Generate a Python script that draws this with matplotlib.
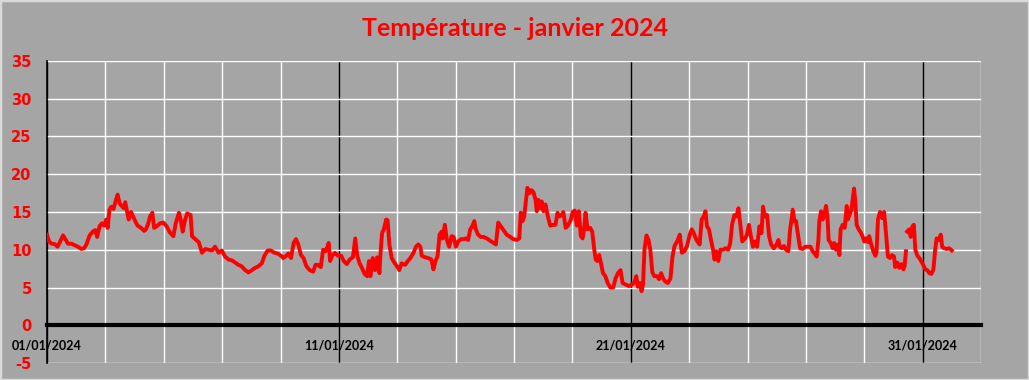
import numpy as np
import matplotlib
matplotlib.use('Agg')
import matplotlib.pyplot as plt
from matplotlib.patches import Rectangle
from matplotlib.ticker import MultipleLocator

plt.rcParams['axes.unicode_minus'] = False

# temperature readings (day since 01/01 00h, deg C)
days_a = [0.00, 0.07, 0.16, 0.27, 0.36, 0.44, 0.55, 0.63, 0.72, 0.84, 0.95, 1.06, 1.18, 1.27, 1.35,
          1.46, 1.57, 1.65, 1.72, 1.80, 1.88, 1.95, 2.03, 2.08, 2.14, 2.20, 2.28, 2.34, 2.42, 2.49,
          2.56, 2.63, 2.68, 2.74, 2.80, 2.88, 2.93, 3.01, 3.10, 3.22, 3.33, 3.39, 3.47, 3.53, 3.61,
          3.67, 3.76, 3.87, 3.99, 4.10, 4.21, 4.33, 4.41, 4.52, 4.58, 4.65, 4.72, 4.80, 4.92, 4.97,
          5.08, 5.20, 5.31, 5.42, 5.54, 5.65, 5.76, 5.88, 5.99, 6.10, 6.22]
temp_a = [12.0, 11.1, 10.8, 10.75, 10.4, 11.0, 11.9, 11.4, 10.8, 10.8, 10.6, 10.4, 10.1, 10.2, 10.7,
          11.9, 12.4, 12.6, 11.7, 13.1, 13.5, 13.2, 14.0, 12.9, 15.3, 15.7, 15.4, 16.3, 17.3, 16.1,
          15.8, 15.5, 16.3, 15.1, 14.0, 15.0, 14.6, 13.9, 13.2, 12.9, 12.5, 12.7, 13.5, 14.4, 14.9,
          12.9, 13.1, 13.5, 13.6, 13.1, 12.3, 11.8, 13.5, 14.9, 14.0, 12.4, 13.8, 14.8, 14.6, 11.8,
          11.4, 11.0, 9.6, 10.1, 10.0, 9.9, 10.4, 9.6, 9.9, 9.1, 8.7]

days_b = [6.33, 6.45, 6.56, 6.67, 6.79, 6.90, 7.02, 7.13, 7.24, 7.36, 7.45, 7.56, 7.67, 7.79, 7.90,
          8.02, 8.10, 8.17, 8.27, 8.36, 8.45, 8.53, 8.61, 8.70, 8.79, 8.89, 9.00, 9.12, 9.20, 9.29,
          9.38, 9.46, 9.54, 9.61, 9.65, 9.70, 9.77, 9.86, 9.97, 10.08, 10.17, 10.27, 10.37, 10.48, 10.56,
          10.63, 10.71, 10.79, 10.88, 10.97, 11.03, 11.08, 11.16, 11.24, 11.31, 11.39, 11.42, 11.48, 11.54, 11.62,
          11.67, 11.73, 11.81, 11.90, 11.99, 12.07, 12.15, 12.27, 12.36, 12.45]
temp_b = [8.6, 8.3, 8.0, 7.8, 7.3, 7.0, 7.3, 7.6, 7.8, 8.2, 9.2, 9.9, 9.9, 9.6, 9.5,
          9.2, 8.9, 9.1, 9.5, 8.9, 10.9, 11.4, 10.7, 9.3, 8.9, 7.8, 7.3, 7.1, 8.0, 8.0,
          7.7, 10.0, 9.8, 10.4, 10.9, 8.5, 9.2, 9.6, 9.2, 9.2, 8.5, 8.1, 8.7, 9.0, 11.5,
          9.2, 8.2, 7.6, 6.8, 6.5, 8.5, 6.5, 8.9, 7.3, 9.0, 6.9, 9.2, 12.2, 12.7, 14.0,
          13.9, 10.7, 8.9, 8.3, 7.8, 7.3, 8.2, 8.0, 8.5, 8.9]

days_c = [12.56, 12.64, 12.72, 12.79, 12.84, 12.95, 13.06, 13.17, 13.24, 13.31, 13.38, 13.45, 13.52, 13.56, 13.63,
          13.70, 13.78, 13.86, 13.93, 14.01, 14.09, 14.18, 14.27, 14.35, 14.43, 14.50, 14.57, 14.64, 14.69, 14.77,
          14.86, 14.95, 15.07, 15.18, 15.30, 15.38, 15.46, 15.53, 15.64, 15.75, 15.87, 15.98, 16.10, 16.18, 16.23,
          16.29, 16.35, 16.40, 16.46, 16.53, 16.60, 16.67, 16.74, 16.78, 16.84, 16.90, 16.95, 17.01, 17.08, 17.15,
          17.24, 17.33, 17.42, 17.49, 17.56, 17.63, 17.69, 17.77, 17.85, 17.95, 18.01, 18.08, 18.15, 18.22, 18.29,
          18.35, 18.40, 18.45, 18.52, 18.61, 18.68, 18.75, 18.80]
temp_c = [9.6, 10.4, 10.7, 10.4, 9.2, 9.0, 8.9, 8.7, 7.4, 8.5, 9.1, 12.0, 12.4, 11.5, 13.3,
          11.3, 10.4, 11.8, 11.7, 10.4, 11.1, 11.4, 11.4, 11.5, 11.3, 12.7, 13.1, 13.8, 12.7, 12.0,
          11.7, 11.7, 11.5, 11.2, 10.9, 10.7, 13.6, 13.2, 12.6, 12.0, 11.7, 11.4, 11.3, 11.5, 14.9,
          13.8, 14.4, 16.2, 18.2, 17.5, 17.9, 17.6, 16.6, 15.1, 16.6, 15.5, 16.4, 15.1, 16.0, 14.6,
          13.2, 13.3, 13.3, 14.9, 14.4, 14.6, 15.0, 12.9, 13.2, 14.0, 15.0, 15.2, 13.2, 15.1, 11.8,
          11.5, 12.7, 14.9, 12.7, 12.9, 12.4, 10.0, 8.7]

days_d = [18.85, 18.92, 18.98, 19.05, 19.13, 19.21, 19.30, 19.40, 19.48, 19.56, 19.65, 19.72, 19.82, 19.93, 20.05,
          20.13, 20.19, 20.24, 20.31, 20.37, 20.42, 20.47, 20.54, 20.61, 20.67, 20.74, 20.81, 20.90, 20.97, 21.04,
          21.11, 21.18, 21.27, 21.36, 21.43, 21.50, 21.59, 21.68, 21.75, 21.84, 21.93, 22.02, 22.09, 22.16, 22.25,
          22.36, 22.43, 22.50, 22.56, 22.61, 22.68, 22.75, 22.82, 22.87, 22.93, 23.00, 23.07, 23.16, 23.25, 23.34,
          23.41, 23.47, 23.55, 23.62, 23.69, 23.76, 23.82, 23.92, 23.98, 24.05, 24.12, 24.19, 24.26, 24.33, 24.41,
          24.48, 24.53, 24.60, 24.67, 24.74, 24.81, 24.90]
temp_d = [8.5, 9.3, 8.2, 6.9, 6.5, 5.6, 5.0, 5.0, 6.2, 6.9, 7.3, 5.6, 5.4, 5.2, 5.4,
          5.7, 6.5, 5.1, 5.6, 4.5, 5.4, 10.0, 11.9, 11.3, 10.0, 7.0, 6.5, 6.5, 6.1, 6.9,
          6.2, 5.8, 5.6, 6.2, 9.1, 10.5, 11.1, 12.0, 9.6, 9.8, 10.5, 12.0, 12.7, 12.2, 11.3,
          10.7, 14.0, 14.4, 15.1, 13.1, 12.7, 11.3, 10.0, 8.7, 9.8, 8.5, 10.0, 10.0, 10.2, 10.0,
          10.9, 13.3, 14.6, 14.4, 15.5, 13.1, 11.1, 11.5, 12.0, 13.3, 11.7, 10.4, 11.1, 10.4, 13.1,
          12.2, 15.7, 14.4, 14.6, 11.8, 10.7, 10.2]

days_e = [25.00, 25.06, 25.11, 25.18, 25.25, 25.32, 25.40, 25.46, 25.51, 25.55, 25.61, 25.66, 25.73, 25.80, 25.89,
          25.98, 26.07, 26.16, 26.23, 26.30, 26.37, 26.43, 26.46, 26.52, 26.58, 26.63, 26.69, 26.74, 26.78, 26.85,
          26.92, 26.97, 27.03, 27.09, 27.15, 27.19, 27.26, 27.33, 27.40, 27.44, 27.49, 27.56, 27.60, 27.65, 27.69,
          27.74, 27.81, 27.88, 27.95, 28.00, 28.06, 28.13, 28.17, 28.24, 28.31, 28.38, 28.42, 28.47, 28.54, 28.61,
          28.68, 28.74, 28.81, 28.88, 28.95, 29.02, 29.06, 29.13, 29.20, 29.27, 29.34, 29.38, 29.43]
temp_e = [10.7, 11.3, 10.4, 10.2, 10.5, 10.0, 9.8, 12.7, 14.0, 15.3, 13.8, 13.8, 12.0, 10.2, 10.1,
          10.4, 10.4, 10.4, 9.8, 9.5, 9.1, 11.3, 13.8, 15.1, 14.0, 14.6, 15.8, 14.4, 11.3, 10.9,
          10.2, 10.9, 10.0, 10.7, 9.3, 12.7, 13.3, 12.9, 15.8, 14.0, 14.6, 15.3, 16.6, 18.1, 16.6,
          13.3, 12.7, 12.3, 11.7, 11.1, 11.5, 11.0, 11.8, 10.7, 9.8, 9.2, 9.6, 14.0, 15.0, 14.2,
          15.0, 12.4, 9.1, 8.9, 9.3, 9.1, 7.7, 8.3, 7.6, 8.1, 7.4, 7.8, 9.8]

# after the missing reading
days_f = [29.47, 29.54, 29.59, 29.65, 29.70, 29.75, 29.82, 29.89, 29.95, 30.02, 30.09, 30.16, 30.23, 30.30, 30.37,
          30.43, 30.48, 30.55, 30.62, 30.67, 30.74, 30.82, 30.91, 31.00]
temp_f = [12.4, 12.7, 11.7, 13.1, 13.3, 10.0, 9.2, 8.9, 8.5, 8.0, 7.4, 7.3, 6.9, 6.8, 7.4,
          10.0, 11.5, 11.3, 12.0, 10.4, 10.2, 10.1, 10.2, 9.9]

date_labels = ['01/01/2024', '11/01/2024', '21/01/2024', '31/01/2024']
date_ticks = [0, 10, 20, 30]

bg = '#a5a5a5'
fig = plt.figure(figsize=(10.29, 3.8), dpi=100, facecolor=bg)
fig.patches.append(Rectangle((0, 0), 1, 1, transform=fig.transFigure, fill=False,
                             edgecolor='#d9d9d9', linewidth=2.5))
ax = fig.add_axes([47 / 1029, 1 - 363 / 380, (981 - 47) / 1029, (363 - 61) / 380])
ax.set_facecolor(bg)

x = days_a + days_b + days_c + days_d + days_e + [np.nan] + days_f
y = temp_a + temp_b + temp_c + temp_d + temp_e + [np.nan] + temp_f
ax.plot(x, y, color='#ff0000', lw=2.8, solid_joinstyle='round', zorder=5)

ax.set_xlim(0, 32)
ax.set_ylim(-5, 35)
ax.set_yticks(range(-5, 36, 5))
ax.set_xticks(date_ticks)
ax.set_xticklabels(date_labels)
ax.xaxis.set_minor_locator(MultipleLocator(2))

# gridlines: white every 2 days and 5 degrees, black every 10 days
ax.grid(which='minor', axis='x', color='white', lw=1.0, zorder=0)
ax.grid(which='major', axis='y', color='white', lw=1.0, zorder=0)
ax.grid(which='major', axis='x', color='black', lw=1.0, zorder=1)

for s in ['top', 'right']:
    ax.spines[s].set_visible(False)
ax.spines['left'].set_color('black')
ax.spines['left'].set_linewidth(1.2)
ax.spines['bottom'].set_position(('data', 0))
ax.spines['bottom'].set_linewidth(3)
ax.spines['bottom'].set_zorder(6)

ax.tick_params(axis='both', which='both', length=0)
ax.tick_params(axis='x', pad=10)
ax.tick_params(axis='y', pad=11)
for lab in ax.get_yticklabels():
    lab.set_color('#ff0000')
    lab.set_fontweight('bold')
    lab.set_fontsize(10.5)
    lab.set_family('DejaVu Sans')
for lab in ax.get_xticklabels():
    lab.set_color('black')
    lab.set_fontweight('bold')
    lab.set_fontsize(9)
    lab.set_family('Lato')

fig.text(0.5, 1 - 28 / 380, 'Température - janvier 2024', ha='center', va='center',
         color='#ff0000', fontsize=18, fontweight='bold', family='Lato')

fig.savefig('out.png', dpi=100, facecolor=bg)
